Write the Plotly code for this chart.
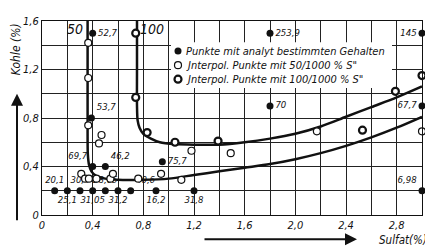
import plotly.graph_objects as go

# ---- data ----
curve50_x = [0.36, 0.36, 0.36, 0.362, 0.372, 0.39, 0.43, 0.50, 0.60, 0.8, 1.0, 1.2, 1.4, 1.6, 1.8, 2.0, 2.2, 2.4, 2.6, 2.8, 3.0]
curve50_y = [1.6, 1.2, 0.8, 0.50, 0.41, 0.36, 0.32, 0.30, 0.29, 0.29, 0.30, 0.33, 0.36, 0.39, 0.42, 0.46, 0.51, 0.57, 0.64, 0.72, 0.81]

curve100_x = [0.75, 0.75, 0.75, 0.755, 0.77, 0.80, 0.86, 0.93, 1.05, 1.2, 1.4, 1.6, 1.8, 2.0, 2.2, 2.4, 2.6, 2.8, 3.0]
curve100_y = [1.6, 1.2, 0.9, 0.78, 0.72, 0.67, 0.63, 0.60, 0.585, 0.58, 0.58, 0.60, 0.63, 0.67, 0.73, 0.81, 0.89, 0.97, 1.06]

analyt_x = [0.1, 0.2, 0.3, 0.4, 0.5, 0.6, 0.7, 0.9, 1.2, 0.4, 0.5, 0.95, 0.39, 0.40, 1.8, 1.8, 3.0, 3.0, 3.0]
analyt_y = [0.2, 0.2, 0.2, 0.2, 0.2, 0.2, 0.2, 0.2, 0.2, 0.4, 0.4, 0.44, 0.8, 1.5, 1.5, 0.9, 1.5, 0.9, 0.2]
analyt_labels = ["20,1", "25,1", "30,4", "31,05", "28,05", "31,2", "40,6", "16,2", "31,8",
                 "69,7", "46,2", "75,7", "53,7", "52,7", "253,9", "70", "145", "67,7", "6,98"]
analyt_pos = ["top center", "bottom center", "top center", "bottom center", "top center", "bottom center",
              "top right", "bottom center", "bottom center",
              "top left", "top right", "middle right", "top right", "middle right", "middle right",
              "middle right", "middle left", "middle left", "top left"]

s50_x = [0.365, 0.365, 0.365, 0.47, 0.45, 0.31, 0.34, 0.37, 0.43, 0.54, 0.56, 0.76, 0.94, 1.10, 1.18, 1.49, 2.17, 3.0]
s50_y = [1.42, 1.13, 0.74, 0.66, 0.59, 0.34, 0.30, 0.30, 0.30, 0.30, 0.34, 0.30, 0.34, 0.29, 0.53, 0.51, 0.69, 0.69]

s100_x = [0.74, 0.74, 0.83, 1.05, 1.39, 2.53, 2.79, 3.0]
s100_y = [1.50, 0.97, 0.68, 0.60, 0.61, 0.70, 1.02, 1.15]

x_tickvals = [0, 0.2, 0.4, 0.6, 0.8, 1.0, 1.2, 1.4, 1.6, 1.8, 2.0, 2.2, 2.4, 2.6, 2.8, 3.0]
x_ticktext = ["0", "", "0,4", "", "0,8", "", "1,2", "", "1,6", "", "2,0", "", "2,4", "", "2,8", ""]
y_tickvals = [0, 0.2, 0.4, 0.6, 0.8, 1.0, 1.2, 1.4, 1.6]
y_ticktext = ["0", "", "0,4", "", "0,8", "", "1,2", "", "1,6"]

legend_names = ["Punkte mit analyt bestimmten Gehalten",
                "Jnterpol. Punkte mit 50/1000 % S\"",
                "Jnterpol. Punkte mit 100/1000 % S\""]

FONT = "DejaVu Sans Condensed, Liberation Sans Narrow, DejaVu Sans, sans-serif"
INK = "#111"

fig = go.Figure()
fig.add_trace(go.Scatter(x=curve50_x, y=curve50_y, mode="lines",
                         line=dict(color=INK, width=2.5, shape="spline", smoothing=0.8),
                         showlegend=False, hoverinfo="skip"))
fig.add_trace(go.Scatter(x=curve100_x, y=curve100_y, mode="lines",
                         line=dict(color=INK, width=2.5, shape="spline", smoothing=0.8),
                         showlegend=False, hoverinfo="skip"))
fig.add_trace(go.Scatter(x=analyt_x, y=analyt_y, mode="markers+text", name=legend_names[0],
                         marker=dict(color=INK, size=7, symbol="circle"),
                         text=analyt_labels, textposition=analyt_pos,
                         textfont=dict(size=9.5, color=INK, family=FONT, style="italic"),
                         cliponaxis=False, showlegend=False))
fig.add_trace(go.Scatter(x=s50_x, y=s50_y, mode="markers", name=legend_names[1],
                         marker=dict(color="white", size=7, symbol="circle", line=dict(color=INK, width=1.2)),
                         cliponaxis=False, showlegend=False))
fig.add_trace(go.Scatter(x=s100_x, y=s100_y, mode="markers", name=legend_names[2],
                         marker=dict(color="white", size=7, symbol="circle", line=dict(color=INK, width=2.2)),
                         cliponaxis=False, showlegend=False))

axis_common = dict(showgrid=True, gridcolor="#222", gridwidth=1, showline=True, linecolor=INK, linewidth=1.2,
                   mirror=True, zeroline=False, ticks="",
                   tickfont=dict(size=11, family=FONT, color=INK, style="italic"))

# page body has an 8px margin: shrink the figure so the plot lands where the reference has it
fig.update_layout(
    width=425, height=241,
    margin=dict(l=34, r=11, t=7, b=34),
    paper_bgcolor="white", plot_bgcolor="white",
    font=dict(family=FONT, color=INK, style="italic"),
    xaxis=dict(range=[0, 3.0], tickvals=x_tickvals, ticktext=x_ticktext, **axis_common),
    yaxis=dict(range=[0, 1.6], tickvals=y_tickvals, ticktext=y_ticktext, **axis_common),
    showlegend=False,
)

# ---- hand-built legend (tight row spacing like the reference) ----
def px_x(p):
    return (p - 42) / 380.0

def px_y(p):
    return (215 - p) / 200.0

fig.add_shape(type="rect", xref="paper", yref="paper", x0=px_x(171), x1=px_x(392), y0=px_y(84), y1=px_y(37),
              fillcolor="white", line=dict(width=0), layer="above")
rows = [46, 60.5, 75]
styles = [dict(fill=INK, lw=0), dict(fill="white", lw=1.2), dict(fill="white", lw=2.2)]
for name, ry, st in zip(legend_names, rows, styles):
    fig.add_shape(type="circle", xref="paper", yref="paper", xsizemode="pixel", ysizemode="pixel",
                  xanchor=px_x(178), yanchor=px_y(ry), x0=-3.5, x1=3.5, y0=-3.5, y1=3.5,
                  fillcolor=st["fill"], line=dict(color=INK, width=st["lw"]), layer="above")
    fig.add_annotation(x=px_x(184), y=px_y(ry), xref="paper", yref="paper", xanchor="left", yanchor="middle",
                       text=name, showarrow=False,
                       font=dict(size=11, family=FONT, color=INK, style="italic"))

# curve labels
fig.add_annotation(x=0.26, y=1.53, xref="x", yref="y", text="50", showarrow=False,
                   font=dict(size=14, family=FONT, color=INK, style="italic"))
fig.add_annotation(x=0.87, y=1.53, xref="x", yref="y", text="100", showarrow=False,
                   font=dict(size=14, family=FONT, color=INK, style="italic"))

# axis titles with arrows
fig.add_annotation(x=px_x(16), y=px_y(44), xref="paper", yref="paper", text="Kohle (%)", textangle=-90,
                   xanchor="center", yanchor="middle",
                   showarrow=False, font=dict(size=12, family=FONT, color=INK, style="italic"))
fig.add_annotation(x=px_x(17), y=px_y(90), xref="paper", yref="paper", text="", showarrow=True,
                   ax=0, ay=128, arrowhead=2, arrowsize=1.2, arrowwidth=2, arrowcolor=INK)
fig.add_annotation(x=px_x(403), y=px_y(241), xref="paper", yref="paper", text="Sulfat(%)",
                   xanchor="center", yanchor="middle",
                   showarrow=False, font=dict(size=11.5, family=FONT, color=INK, style="italic"))
fig.add_annotation(x=px_x(357), y=px_y(240), xref="paper", yref="paper", text="", showarrow=True,
                   ax=-154, ay=0, arrowhead=2, arrowsize=1.2, arrowwidth=2, arrowcolor=INK)

fig.write_html("out.html")
